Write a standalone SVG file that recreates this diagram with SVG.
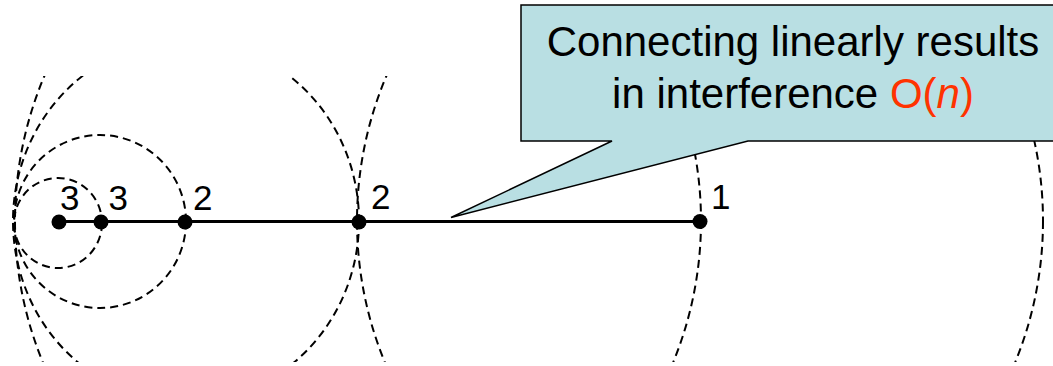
<svg xmlns="http://www.w3.org/2000/svg" width="1053" height="366" viewBox="0 0 1053 366">
  <style>
    .ring { fill: none; stroke: #000; stroke-width: 2; stroke-dasharray: 8 5; }
    .dot { fill: #000; }
    .lbl { font-family: "Liberation Sans", Arial, sans-serif; font-size: 35px; fill: #000; }
    .link { stroke: #000; stroke-width: 3; fill: none; }
    .callout { fill: #B9DFE3; stroke: #000; stroke-width: 1.5; stroke-linejoin: miter; }
    .ctext { font-family: "Liberation Sans", Arial, sans-serif; font-size: 42px; fill: #000; text-anchor: middle; }
    .red { fill: #FF3300; }
  </style>
  <defs>
    <clipPath id="band">
      <rect x="0" y="76" width="1053" height="286"/>
    </clipPath>
  </defs>
  <rect width="1053" height="366" fill="#fff"/>

  <g id="ranges" clip-path="url(#band)">
    <ellipse class="ring" cx="58" cy="223" rx="44" ry="45"/>
    <ellipse class="ring" cx="100" cy="221.5" rx="86" ry="86.5"/>
    <ellipse class="ring" cx="186" cy="221" rx="173" ry="181"/>
    <ellipse class="ring" cx="358" cy="221" rx="343" ry="358"/>
    <ellipse class="ring" cx="700" cy="221" rx="343" ry="358"/>
  </g>

  <g id="connectors">
    <line class="link" x1="59" y1="221.5" x2="700" y2="221.5"/>
  </g>

  <g id="node-a">
    <circle class="dot" cx="59" cy="222" r="7.5"/>
    <text class="lbl" x="60" y="209.5">3</text>
  </g>
  <g id="node-b">
    <circle class="dot" cx="101" cy="222" r="7.5"/>
    <text class="lbl" x="108.5" y="209.5">3</text>
  </g>
  <g id="node-c">
    <circle class="dot" cx="185" cy="222" r="7.5"/>
    <text class="lbl" x="193" y="209.5">2</text>
  </g>
  <g id="node-d">
    <circle class="dot" cx="359" cy="222" r="7.5"/>
    <text class="lbl" x="371" y="209">2</text>
  </g>
  <g id="node-e">
    <circle class="dot" cx="700" cy="221.5" r="7.5"/>
    <text class="lbl" x="711" y="209">1</text>
  </g>

  <g id="callout">
    <path class="callout" d="M521,5 H1060 V141 H748 L451,217.5 L612,141 H521 Z"/>
    <text class="ctext" x="793" y="56">Connecting linearly results</text>
    <text class="ctext" x="793" y="108">in interference <tspan class="red">O(</tspan><tspan class="red" font-style="italic">n</tspan><tspan class="red">)</tspan></text>
  </g>
</svg>
